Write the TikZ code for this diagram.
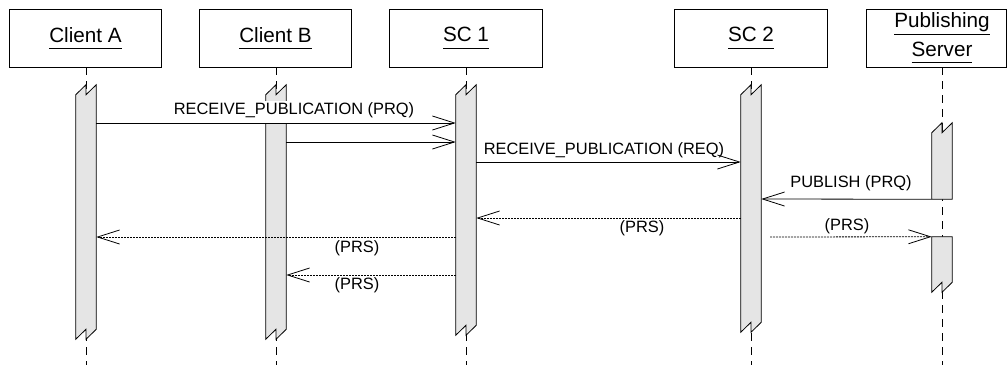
\documentclass[tikz,border=0pt]{standalone}
\usepackage{fontspec}
\setmainfont{Liberation Sans}
\usetikzlibrary{arrows.meta}
\newcommand{\ulx}[1]{\underline{#1\vphantom{g}}}
\begin{document}
\begin{tikzpicture}[x=0.75pt,y=-0.75pt,
  objbox/.style={draw, line width=0.7pt, minimum width=114.5pt, minimum height=43.5pt, inner sep=0pt},
  objtext/.style={font=\fontsize{15.5}{20}\selectfont, align=center, inner sep=0pt},
  lifeline/.style={line width=0.7pt, dash pattern=on 6pt off 4.5pt},
  barbox/.style={draw=none, minimum width=15pt, inner sep=0pt},
  barfill/.style={fill=gray!20, draw=black, line width=0.6pt},
  msg/.style={line width=0.6pt, -{Straight Barb[length=16.5pt,width=10.5pt]}},
  reply/.style={msg, dash pattern=on 1.5pt off 0.75pt},
  lbl/.style={font=\fontsize{12.3}{14}\selectfont, inner sep=0pt}]
\useasboundingbox (0,0) rectangle (1007,365);

% object boxes
\node[objbox] (ca) at (85.5,38) {};
\node[objtext] (cat) at (85.5,38) {\ulx{Client A}};
\node[objbox] (cb) at (275.5,38) {};
\node[objtext] (cbt) at (275.5,38) {\ulx{Client B}};
\node[objbox] (s1) at (466,38) {};
\node[objtext] (s1t) at (466,38) {\ulx{SC 1}};
\node[objbox] (s2) at (751,38) {};
\node[objtext] (s2t) at (751,38) {\ulx{SC 2}};
\node[objbox, minimum width=105pt] (ps) at (936,38) {};
\node[objtext, font=\fontsize{15.5}{21.5}\selectfont] (pst) at (942,38) {\ulx{Publishing}\\\ulx{Server}};

% lifelines
\draw[lifeline] (86,67) -- (86,365);
\draw[lifeline] (276,67) -- (276,365);
\draw[lifeline] (466,67) -- (466,365);
\draw[lifeline] (751,67) -- (751,365);
\draw[lifeline] (942,67) -- (942,365);

% activation bars (geometry)
\node[barbox, minimum height=190.5pt] (ba) at (86,212) {};
\node[barbox, minimum height=190.5pt] (bb) at (276,212) {};
\node[barbox, minimum height=187.5pt] (bs1) at (466,210) {};
\node[barbox, minimum height=185.25pt] (bs2) at (751,208.5) {};
\node[barbox, minimum height=57pt] (bp1) at (942,161) {};
\node[barbox, minimum height=41.25pt] (bp2) at (942,264.5) {};

\foreach \b in {ba,bb,bs1,bs2}{
  \draw[barfill] ([yshift=-7.5pt]\b.north west) -- (\b.north) -- ([yshift=-7.5pt]\b.north) -- (\b.north east)
    -- ([yshift=7.5pt]\b.south east) -- (\b.south) -- ([yshift=7.5pt]\b.south) -- (\b.south west) -- cycle;
}
\draw[barfill] ([yshift=-7.5pt]bp1.north west) -- (bp1.north) -- ([yshift=-7.5pt]bp1.north) -- (bp1.north east)
    -- (bp1.south east) -- (bp1.south west) -- cycle;
\draw[barfill] (bp2.north west) -- (bp2.north east)
    -- ([yshift=7.5pt]bp2.south east) -- (bp2.south) -- ([yshift=7.5pt]bp2.south) -- (bp2.south west) -- cycle;

% rows
\coordinate (r1) at (0,123);
\coordinate (r2) at (0,142);
\coordinate (r3) at (0,162);
\coordinate (r4) at (0,199);
\coordinate (r5) at (0,218);
\coordinate (r6) at (0,237);
\coordinate (r8) at (0,275);
\coordinate (m7s) at (770,237);

% labels
\node[lbl, fill=white, anchor=base, text height=9.75pt, text depth=6.4pt] (l1) at (294,114) {RECEIVE\_PUBLICATION (PRQ)};
\node[lbl] (l3) at (604,150) {RECEIVE\_PUBLICATION (REQ)};
\node[lbl] (l4) at (851,183) {PUBLISH (PRQ)};
\node[lbl] (l5) at (642,228) {(PRS)};
\node[lbl] (l6) at (357,248) {(PRS)};
\node[lbl] (l7) at (847,226) {(PRS)};
\node[lbl] (l8) at (357,285) {(PRS)};

% messages
\draw[msg] (ba.east |- r1) -- (bs1.west |- r1);
\draw[msg] (bb.east |- r2) -- (bs1.west |- r2);
\draw[msg] (bs1.east |- r3) -- (bs2.west |- r3);
\draw[msg] (bp1.south west) -- (bs2.east |- r4);
\draw[reply] (bs2.west |- r5) -- (bs1.east |- r5);
\draw[reply] (bs1.west |- r6) -- (ba.east |- r6);
\draw[reply] (m7s) -- (bp2.north west);
\draw[reply] (bs1.west |- r8) -- (bb.east |- r8);
\end{tikzpicture}
\end{document}
